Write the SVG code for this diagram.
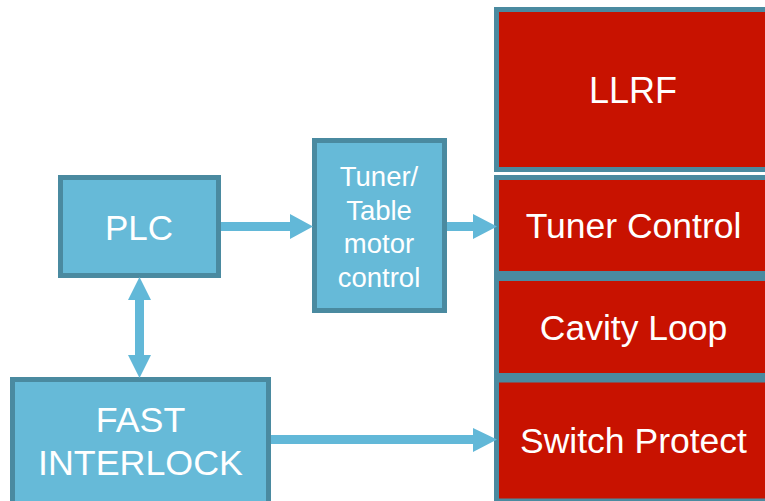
<svg xmlns="http://www.w3.org/2000/svg" width="765" height="501" viewBox="0 0 765 501">
  <style>
    .blue { fill: #66BAD8; stroke: #4A8AA0; stroke-width: 5; }
    .red { fill: #C81200; stroke: #4A8AA0; stroke-width: 5; }
    .lbl { font-family: "Liberation Sans", Arial, sans-serif; fill: #FFFFFF; text-anchor: middle; }
    .conn { fill: #62B8D8; }
  </style>
  <rect x="0" y="0" width="765" height="501" fill="#FFFFFF"/>
  <g id="llrf">
    <rect class="red" x="496.5" y="9.5" width="300" height="160"/>
    <text class="lbl" x="633" y="103" font-size="36">LLRF</text>
  </g>
  <g id="tuner-control">
    <rect class="red" x="496.5" y="177.5" width="300" height="96"/>
    <text class="lbl" x="633.5" y="238" font-size="35.5">Tuner Control</text>
  </g>
  <g id="cavity-loop">
    <rect class="red" x="496.5" y="278.5" width="300" height="97"/>
    <text class="lbl" x="633.5" y="340" font-size="35.5">Cavity Loop</text>
  </g>
  <g id="switch-protect">
    <rect class="red" x="496.5" y="380" width="300" height="121"/>
    <text class="lbl" x="633.5" y="453" font-size="35.5">Switch Protect</text>
  </g>
  <g id="plc">
    <rect class="blue" x="60.5" y="177.5" width="158" height="98"/>
    <text class="lbl" x="139" y="240" font-size="35">PLC</text>
  </g>
  <g id="tuner-table">
    <rect class="blue" x="314.5" y="140.5" width="130" height="170"/>
    <text class="lbl" x="379" y="186" font-size="27.5">Tuner/</text>
    <text class="lbl" x="379" y="220" font-size="27.5">Table</text>
    <text class="lbl" x="379" y="253" font-size="27.5">motor</text>
    <text class="lbl" x="379" y="287" font-size="27.5">control</text>
  </g>
  <g id="fast-interlock">
    <rect class="blue" x="12.5" y="379.5" width="256" height="125"/>
    <text class="lbl" x="140.5" y="432" font-size="35.8">FAST</text>
    <text class="lbl" x="140.5" y="475" font-size="35.8">INTERLOCK</text>
  </g>
  <g id="connectors">
    <polygon class="conn" points="221,222 290,222 290,214 313,226.5 290,239 290,231 221,231"/>
    <polygon class="conn" points="447,222 473,222 473,214 497,226.5 473,239 473,231 447,231"/>
    <polygon class="conn" points="139.5,277 151,300 144,300 144,355 151,355 139.5,378 128,355 135,355 135,300 128,300"/>
    <polygon class="conn" points="271,435 473,435 473,428 497,439.5 473,452 473,444 271,444"/>
  </g>
</svg>
